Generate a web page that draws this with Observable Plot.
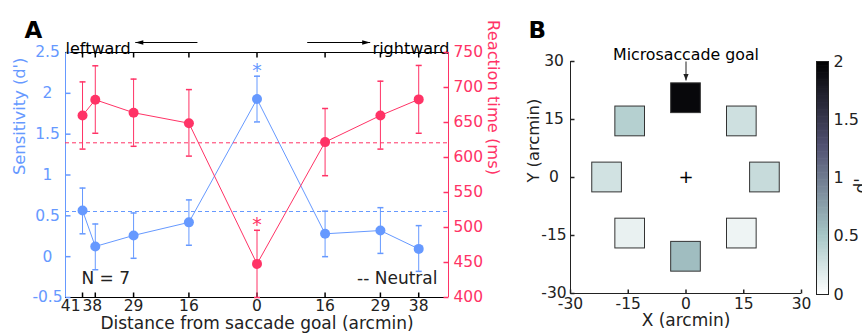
<!DOCTYPE html>
<html><head><meta charset="utf-8">
<script src="https://cdn.jsdelivr.net/npm/d3@7"></script>
<script src="https://cdn.jsdelivr.net/npm/@observablehq/plot@0.6"></script>
<style>
body{margin:0;background:#fff;}
#wrap{position:relative;width:862px;height:335px;font-family:"DejaVu Sans";}
#wrap svg{position:absolute;left:0;top:0;}
</style></head><body><div id="wrap"></div>
<script>
// ---------- Data: panel A ----------
const distances = [-41, -38, -29, -16, 0, 16, 29, 38];            // signed distance (negative = leftward)
const distanceLabels = ["41", "38", "29", "16", "0", "16", "29", "38"];
const dprime   = [0.566, 0.125, 0.26, 0.42, 1.93, 0.28, 0.32, 0.095];
const dprimeHi = [0.84, 0.40, 0.535, 0.695, 2.21, 0.557, 0.60, 0.38];
const dprimeLo = [0.28, -0.16, -0.02, 0.14, 1.65, 0.0, 0.04, -0.18];
const rt   = [660, 682.5, 664, 649, 448, 622, 660, 683];
const rtHi = [708, 731, 712, 697, 496, 670, 709, 731.5];
const rtLo = [612, 634.6, 616, 602, 400, 574, 612, 634.6];
const neutralD = 0.553;
const neutralRT = 621;
const starD = 2.34;     // significance marker, sensitivity
const starRT = 511;     // significance marker, reaction time
const dTicks = [-0.5, 0, 0.5, 1, 1.5, 2, 2.5];
const rtTicks = [400, 450, 500, 550, 600, 650, 700, 750];

// ---------- Data: panel B ----------
// clockwise from the top (microsaccade goal)
const stimX = [0, 14.5, 20.5, 14.5, 0, -14.5, -20.5, -14.5];
const stimY = [20.5, 14.5, 0, -14.5, -20.5, -14.5, 0, 14.5];
const stimD = [1.93, 0.28, 0.32, 0.095, 0.566, 0.125, 0.26, 0.42];
const stimSize = 7.7;            // arcmin
const fixation = [{x: 0, y: 0}];
const gridTicks = [-30, -15, 0, 15, 30];
const cbTicks = [0, 0.5, 1, 1.5, 2];

// ---------- Layout / style ----------
const W = 862, H = 335;
const blue = "#6699FF", red = "#FF3366", ink = "#222";
const font = "DejaVu Sans";
const baseStyle = {background: "transparent", fontFamily: font, fontSize: "15.5px", overflow: "visible"};
const xDomainA = [-45, 45], yDomainD = [-0.5, 2.5], yDomainRT = [400, 750];
const frameA = {marginLeft: 65, marginRight: W - 448, marginTop: 52, marginBottom: H - 297};
const leftArrow = {from: -14, to: -28.6}, rightArrow = {from: 11.8, to: 26.6};
const goalArrow = {from: 30, to: 25.1};

const dRows = distances.map((x, i) => ({x, y: dprime[i], lo: dprimeLo[i], hi: dprimeHi[i]}));
const rRows = distances.map((x, i) => ({x, y: rt[i], lo: rtLo[i], hi: rtHi[i]}));
const fmtDist = d => distanceLabels[distances.indexOf(d)];

// custom symbols
const capSymbol = {draw(ctx) { ctx.moveTo(-3, 0); ctx.lineTo(3, 0); }};
const tick = (dx, dy) => ({draw(ctx) { ctx.moveTo(0, 0); ctx.lineTo(dx, dy); }});
const tickUp = tick(0, -5), tickDown = tick(0, 5), tickRight = tick(5, 0), tickLeft = tick(-5, 0);
const tickUpB = tick(0, -4), tickRightB = tick(4, 0);
const headLeft = {draw(ctx) { ctx.moveTo(0, 0); ctx.lineTo(8, -2.3); ctx.lineTo(8, 2.3); ctx.closePath(); }};
const headRight = {draw(ctx) { ctx.moveTo(0, 0); ctx.lineTo(-8, -2.3); ctx.lineTo(-8, 2.3); ctx.closePath(); }};
const headDown = {draw(ctx) { ctx.moveTo(0, 0); ctx.lineTo(-2.6, -6.5); ctx.lineTo(2.6, -6.5); ctx.closePath(); }};

// bone colormap, reversed (0 = white, 2 = black)
const boneRev = d3.scaleLinear().domain([0, 0.254, 0.635, 1])
  .range(["rgb(255,255,255)", "rgb(166,198,198)", "rgb(81,81,113)", "rgb(0,0,0)"])
  .interpolate(d3.interpolateRgb).clamp(true);
const colorScale = {type: "linear", domain: [0, 2], interpolate: t => boneRev(t)};

const wrap = document.getElementById("wrap");

// ---------- Panel A: sensitivity (left axis) ----------
const yTopD = yDomainD[1], yBotD = yDomainD[0];
const plotD = Plot.plot({
  width: W, height: H, ...frameA,
  x: {domain: xDomainA}, y: {domain: yDomainD},
  style: baseStyle,
  marks: [
    Plot.ruleY([neutralD], {stroke: blue, strokeDasharray: "4,3"}),
    Plot.ruleX(dRows, {x: "x", y1: "lo", y2: "hi", stroke: blue}),
    Plot.dot(dRows, {x: "x", y: "lo", symbol: capSymbol, stroke: blue, fill: "none"}),
    Plot.dot(dRows, {x: "x", y: "hi", symbol: capSymbol, stroke: blue, fill: "none"}),
    Plot.line(dRows, {x: "x", y: "y", stroke: blue, strokeWidth: 1}),
    Plot.dot(dRows, {x: "x", y: "y", r: 5, fill: blue, stroke: "none"}),
    Plot.text([starD], {x: 0, y: d => d, text: () => "*", fill: blue, fontSize: 19, dy: 5}),
    // frame lines and ticks
    Plot.ruleX([xDomainA[0]], {stroke: blue}),
    Plot.ruleY(yDomainD, {stroke: "black"}),
    Plot.dot(dTicks, {x: xDomainA[0], y: d => d, symbol: tickRight, stroke: blue, fill: "none"}),
    Plot.dot(distances, {x: d => d, y: yBotD, symbol: tickUp, stroke: "black", fill: "none"}),
    Plot.dot(distances, {x: d => d, y: yTopD, symbol: tickDown, stroke: "black", fill: "none"}),
    // tick labels
    Plot.axisY(dTicks, {anchor: "left", tickSize: 0, tickPadding: 18, textAnchor: "middle", fill: blue, tickFormat: d => String(d), label: null}),
    Plot.axisX([distances[0]], {anchor: "bottom", tickSize: 0, tickPadding: 2, textAnchor: "end", dx: -2, fill: ink, tickFormat: fmtDist, label: null}),
    Plot.axisX([distances[1]], {anchor: "bottom", tickSize: 0, tickPadding: 2, dx: -3, fill: ink, tickFormat: fmtDist, label: null}),
    Plot.axisX(distances.slice(2), {anchor: "bottom", tickSize: 0, tickPadding: 2, fill: ink, tickFormat: fmtDist, label: null}),
    // labels & annotations
    Plot.text(["Distance from saccade goal (arcmin)"], {frameAnchor: "bottom", dy: 31, text: d => d, fontSize: 17, fill: ink}),
    Plot.text(["Sensitivity (d')"], {frameAnchor: "left", dx: -46, rotate: -90, text: d => d, fontSize: 16.3, fill: blue}),
    Plot.text(["A"], {frameAnchor: "top-left", dx: -41, dy: -31, text: d => d, fontSize: 23, fontWeight: "bold", fill: "black"}),
    Plot.text(["leftward"], {frameAnchor: "top-left", textAnchor: "start", dy: -10, text: d => d, fontSize: 16, fill: "black"}),
    Plot.text(["rightward"], {frameAnchor: "top-right", textAnchor: "end", dx: 1, dy: -10, text: d => d, fontSize: 16, fill: "black"}),
    Plot.link([leftArrow, rightArrow], {x1: "from", x2: "to", y1: yTopD, y2: yTopD, dy: -10, stroke: "black", strokeWidth: 1}),
    Plot.dot([leftArrow], {x: "to", y: yTopD, dy: -10, symbol: headLeft, fill: "black", stroke: "none"}),
    Plot.dot([rightArrow], {x: "to", y: yTopD, dy: -10, symbol: headRight, fill: "black", stroke: "none"}),
    Plot.text(["N = 7"], {frameAnchor: "bottom-left", textAnchor: "start", dx: 16, dy: -14, text: d => d, fontSize: 17, fill: ink}),
    Plot.text(["-- Neutral"], {frameAnchor: "bottom-right", textAnchor: "end", dx: -11, dy: -14, text: d => d, fontSize: 17, fill: ink})
  ]
});
wrap.appendChild(plotD);

// ---------- Panel A: reaction time (right axis) ----------
const plotRT = Plot.plot({
  width: W, height: H, ...frameA,
  x: {domain: xDomainA, axis: null}, y: {domain: yDomainRT},
  style: baseStyle,
  marks: [
    Plot.ruleY([neutralRT], {stroke: red, strokeDasharray: "4,3"}),
    Plot.ruleX(rRows, {x: "x", y1: "lo", y2: "hi", stroke: red}),
    Plot.dot(rRows, {x: "x", y: "lo", symbol: capSymbol, stroke: red, fill: "none"}),
    Plot.dot(rRows, {x: "x", y: "hi", symbol: capSymbol, stroke: red, fill: "none"}),
    Plot.line(rRows, {x: "x", y: "y", stroke: red, strokeWidth: 1}),
    Plot.dot(rRows, {x: "x", y: "y", r: 5, fill: red, stroke: "none"}),
    Plot.text([starRT], {x: 0, y: d => d, text: () => "*", fill: red, fontSize: 19, dy: 5}),
    Plot.ruleX([xDomainA[1]], {stroke: red}),
    Plot.dot(rtTicks, {x: xDomainA[1], y: d => d, symbol: tickLeft, stroke: red, fill: "none"}),
    Plot.axisY(rtTicks, {anchor: "right", tickSize: 0, tickPadding: 5, fill: red, tickFormat: d => String(d), label: null}),
    Plot.text(["Reaction time (ms)"], {frameAnchor: "right", dx: 45, rotate: 90, text: d => d, fontSize: 16.3, fill: red})
  ]
});
wrap.appendChild(plotRT);

// ---------- Panel B: stimulus map ----------
const stimRows = stimX.map((x, i) => ({x, y: stimY[i], d: stimD[i]}));
const half = stimSize / 2;
const plotB = Plot.plot({
  width: W, height: H, marginLeft: 570, marginRight: W - 801, marginTop: 61, marginBottom: H - 293,
  x: {domain: [-30, 30]}, y: {domain: [-30, 30]},
  color: colorScale,
  style: baseStyle,
  marks: [
    Plot.rect(stimRows, {x1: d => d.x - half, x2: d => d.x + half, y1: d => d.y - half, y2: d => d.y + half, fill: "d", stroke: "#333", strokeWidth: 1}),
    Plot.text(fixation, {x: "x", y: "y", text: () => "+", fontSize: 18, fill: "black"}),
    Plot.text(["Microsaccade goal"], {x: 0, frameAnchor: "top", dy: -13, text: d => d, fontSize: 15.8, fill: "black"}),
    Plot.link([goalArrow], {x1: 0, x2: 0, y1: "from", y2: "to", stroke: ink, strokeWidth: 1}),
    Plot.dot([goalArrow], {x: 0, y: "to", symbol: headDown, fill: ink, stroke: "none"}),
    Plot.ruleX([-30], {stroke: ink}),
    Plot.ruleY([-30], {stroke: ink}),
    Plot.dot(gridTicks, {x: -30, y: d => d, symbol: tickRightB, stroke: ink, fill: "none"}),
    Plot.dot(gridTicks, {x: d => d, y: -30, symbol: tickUpB, stroke: ink, fill: "none"}),
    Plot.axisY(gridTicks, {anchor: "left", tickSize: 0, tickPadding: 16.5, textAnchor: "middle", fill: ink, tickFormat: d => String(d), label: null}),
    Plot.axisX(gridTicks, {anchor: "bottom", tickSize: 0, tickPadding: 4, fill: ink, tickFormat: d => String(d), label: null}),
    Plot.text(["X (arcmin)"], {frameAnchor: "bottom", dy: 32, text: d => d, fontSize: 17, fill: ink}),
    Plot.text(["Y (arcmin)"], {frameAnchor: "left", dx: -37, dy: 5, rotate: -90, text: d => d, fontSize: 16.3, fill: ink}),
    Plot.text(["B"], {frameAnchor: "top-left", dx: -42, dy: -40, text: d => d, fontSize: 23, fontWeight: "bold", fill: "black"})
  ]
});
wrap.appendChild(plotB);

// ---------- Colorbar ----------
const cbStops = d3.range(0, 2, 0.02);
const plotCB = Plot.plot({
  width: W, height: H, marginLeft: 816, marginRight: W - 828, marginTop: 61, marginBottom: H - 294,
  x: {domain: [0, 1], axis: null}, y: {domain: [0, 2]},
  color: colorScale,
  style: baseStyle,
  marks: [
    Plot.rect(cbStops, {x1: 0, x2: 1, y1: d => d, y2: d => Math.min(2, d + 0.025), fill: d => d + 0.01}),
    Plot.frame({stroke: ink}),
    Plot.axisY(cbTicks, {anchor: "right", tickSize: 0, tickPadding: 5, fill: ink, fontSize: 16, tickFormat: d => String(d), label: null}),
    Plot.text(["d'"], {frameAnchor: "right", dx: 33, rotate: -90, text: d => d, fontSize: 17, fill: ink})
  ]
});
wrap.appendChild(plotCB);
</script>
</body></html>
